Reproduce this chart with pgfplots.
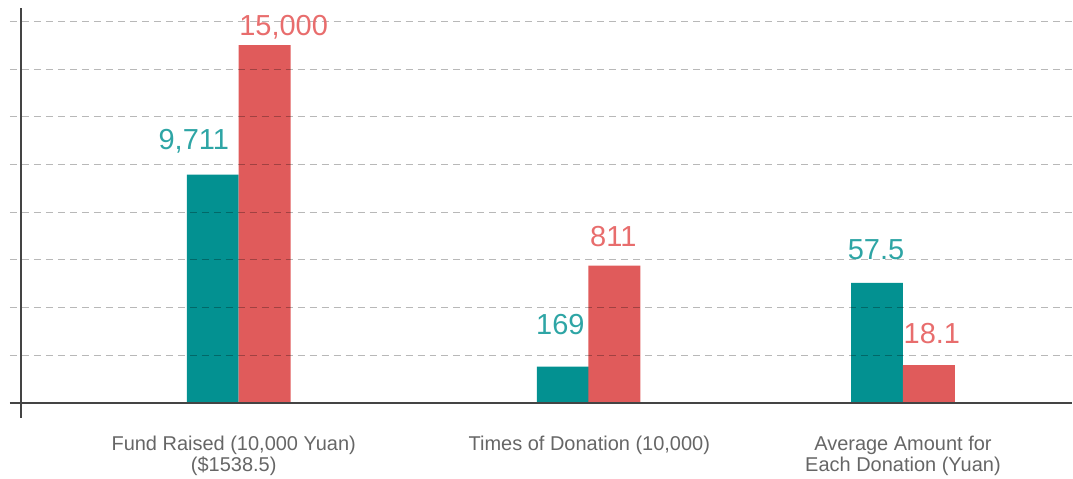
\documentclass[border=0pt]{standalone}
\usepackage{pgfplots}
\usepackage{pgfplotstable}
\pgfplotsset{compat=1.18}
\usepackage{fontspec}
\setmainfont{Liberation Sans}

\definecolor{tealbar}{HTML}{039191}
\definecolor{redbar}{HTML}{E05B5B}
\definecolor{teallbl}{HTML}{2EA5A5}
\definecolor{redlbl}{HTML}{E86D6D}
\definecolor{axisgray}{HTML}{444444}
\definecolor{catgray}{HTML}{666666}

% heights are in grid units (one dashed line = 1), labels are the real values
\pgfplotstableread{
x y label dx dy
213 4.79 9,711 -19 25
563.5 0.76 169 -2.5 32
878 2.52 57.5 -1 23
}\tealdata
\pgfplotstableread{
x y label dx dy
265 7.51 15,000 19 10
615 2.88 811 -1 19
930 0.79 18.1 3 22
}\reddata

\begin{document}
\begin{tikzpicture}
\begin{axis}[
scale only axis,
width=1073pt,
height=479pt,
xmin=0, xmax=1073,
ymin=-1.587, ymax=8.455,
hide axis,
clip=false,
bar width=52,
point meta=explicit symbolic,
nodes near coords,
visualization depends on={\thisrow{dx} \as \dx},
visualization depends on={\thisrow{dy} \as \dy},
nodes near coords style={anchor=base, inner sep=0pt, xshift=\dx pt, yshift=\dy pt,
  font=\fontsize{29}{31}\selectfont},
]
\path (rel axis cs:0,0) rectangle (rel axis cs:1,1);

\addplot[ybar, bar shift=0pt, fill=tealbar, draw=none,
  every node near coord/.append style={text=teallbl}]
  table[x=x, y=y, meta=label] {\tealdata};
\addplot[ybar, bar shift=0pt, fill=redbar, draw=none,
  every node near coord/.append style={text=redlbl}]
  table[x=x, y=y, meta=label] {\reddata};

\foreach \g in {1,...,8} {
  \edef\tmp{\noexpand\draw[black, opacity=0.28, line width=1pt, dash pattern=on 7pt off 5pt]
    (axis cs:10,\g) -- (axis cs:1073,\g);}
  \tmp
}
\draw[axisgray, line width=2.5pt] (axis cs:10,0) -- (axis cs:1073,0);
\draw[axisgray, line width=2.5pt] (axis cs:21,-0.31) -- (axis cs:21,8.29);

\node[anchor=north, align=center, inner sep=0pt, text=catgray,
  font=\fontsize{20}{21}\selectfont] at (axis cs:234,-0.7)
  {Fund Raised (10,000 Yuan)\\(\$1538.5)};
\node[anchor=north, align=center, inner sep=0pt, text=catgray,
  font=\fontsize{20}{21}\selectfont] at (axis cs:590,-0.7)
  {Times of Donation (10,000)};
\node[anchor=north, align=center, inner sep=0pt, text=catgray,
  font=\fontsize{20}{21}\selectfont] at (axis cs:904,-0.7)
  {Average Amount for\\Each Donation (Yuan)};
\end{axis}
\end{tikzpicture}
\end{document}
